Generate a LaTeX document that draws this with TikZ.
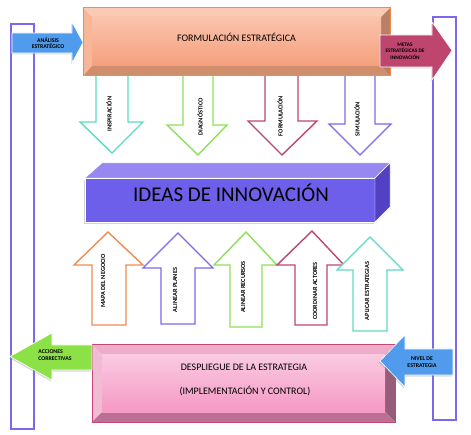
\documentclass[tikz,border=0pt]{standalone}
\usepackage{fontspec}
\setmainfont{Carlito}
\usetikzlibrary{shadows}
\definecolor{frame}{RGB}{123,104,238}
\definecolor{aqua}{RGB}{95,218,195}
\definecolor{lime}{RGB}{140,225,90}
\definecolor{wine}{RGB}{190,70,110}
\definecolor{tang}{RGB}{240,140,80}
\definecolor{sky}{RGB}{80,155,235}
\definecolor{leaf}{RGB}{140,225,70}
\tikzstyle{side} = [draw=frame, line width=1.5pt]
\tikzstyle{hollow} = [fill=white, line width=1.4pt]
\tikzstyle{block} = [draw=white, line width=0.6pt, drop shadow={shadow xshift=-1pt, shadow yshift=-1.5pt, opacity=.3}]
\tikzstyle{tag} = [font=\fontsize{5.8}{6.6}\selectfont\bfseries, align=center, inner sep=0pt]
\tikzstyle{vtag} = [tag, font=\fontsize{6.3}{7}\selectfont\bfseries, rotate=90]
\tikzstyle{title} = [font=\fontsize{10}{12}\selectfont, inner sep=0pt]

\begin{document}
\begin{tikzpicture}[x=1pt,y=-1pt]
  \useasboundingbox (0,0) rectangle (471,435);
  % side frames
  \draw [side] (11,24) rectangle (34,429);
  \draw [side] (433,17) rectangle (456,420);
  % input arrow
  \draw [block, fill=sky] (12,33) -- (72,33) -- (72,22) -- (83,42.5) -- (72,63) -- (72,53) -- (12,53) -- cycle;
  \node (analisis) at (48,43) [tag] {ANÁLISIS\\ESTRATÉGICO};
  % down arrows
  \draw [hollow, draw=aqua] (96,76) -- (96,122) -- (80,122) -- (112,153) -- (143,122) -- (128,122) -- (128,76);
  \draw [hollow, draw=lime] (183,76) -- (183,125) -- (167,125) -- (198,155) -- (227,125) -- (213,125) -- (213,76);
  \draw [hollow, draw=wine] (265,76) -- (265,121) -- (248,121) -- (282,155) -- (317,121) -- (298,121) -- (298,76);
  \draw [hollow, draw=frame] (345,76) -- (345,124) -- (329,124) -- (360,155) -- (391,124) -- (375,124) -- (375,76);
  \node (inspiracion) at (109,114) [vtag] {INSPIRACIÓN};
  \node (diagnostico) at (200,117) [vtag] {DIAGNÓSTICO};
  \node (formulacion) at (280,116) [vtag] {FORMULACIÓN};
  \node (simulacion) at (357,119) [vtag] {SIMULACIÓN};
  % top box
  \fill [fill={rgb,255:red,250;green,202;blue,180}] (83,8) -- (390,8) -- (381,17) -- (92,17) -- cycle;
  \fill [fill={rgb,255:red,247;green,182;blue,152}] (83,8) -- (92,17) -- (92,66) -- (83,76) -- cycle;
  \fill [fill={rgb,255:red,185;green,128;blue,100}] (390,8) -- (390,76) -- (381,66) -- (381,17) -- cycle;
  \fill [fill={rgb,255:red,208;green,142;blue,108}] (83,76) -- (92,66) -- (381,66) -- (390,76) -- cycle;
  \shade [top color={rgb,255:red,250;green,195;blue,172}, bottom color={rgb,255:red,245;green,160;blue,125}] (92,17) rectangle (381,66);
  \draw [draw=tang, line width=1pt] (83,8) rectangle (390,76);
  \node (formula) at (236.5,37) [title] {FORMULACIÓN ESTRATÉGICA};
  % output arrow
  \draw [block, fill=wine] (380,35) -- (432,35) -- (432,22) -- (452,50.5) -- (432,80) -- (432,67) -- (380,67) -- cycle;
  \node (metas) at (405,51) [tag, font=\fontsize{5.3}{6.3}\selectfont\bfseries] {METAS\\ESTRATÉGICAS DE\\INNOVACIÓN};
  % ideas
  \draw [draw=white, fill={rgb,255:red,110;green,95;blue,235}, drop shadow={shadow xshift=-1pt, shadow yshift=-2pt, opacity=.35}] (85,178) rectangle (375,222);
  \draw [draw=white, fill={rgb,255:red,150;green,136;blue,240}] (85,178) -- (102,163) -- (390,163) -- (375,178) -- cycle;
  \draw [draw=white, fill={rgb,255:red,82;green,66;blue,195}] (375,178) -- (390,163) -- (390,207) -- (375,222) -- cycle;
  \node (ideas) at (231,192.5) [title, font=\fontsize{21}{24}\selectfont] {IDEAS DE INNOVACIÓN};
  % up arrows
  \draw [hollow, draw=tang] (92,325) -- (92,265) -- (74,265) -- (108,232) -- (143,265) -- (126,265) -- (126,325) -- cycle;
  \draw [hollow, draw=frame] (161,324) -- (161,268) -- (143,268) -- (178,233) -- (213,268) -- (195,268) -- (195,324) -- cycle;
  \draw [hollow, draw=lime] (230,327) -- (230,265) -- (214,265) -- (246,232) -- (277,265) -- (262,265) -- (262,327) -- cycle;
  \draw [hollow, draw=wine] (295,325) -- (295,265) -- (277,265) -- (312,231) -- (344,265) -- (327,265) -- (327,325) -- cycle;
  \draw [hollow, draw=aqua] (353,331) -- (353,270) -- (337,270) -- (370,237) -- (403,270) -- (387,270) -- (387,331) -- cycle;
  \node (mapa) at (103,281) [vtag] {MAPA DEL NEGOCIO};
  \node (planes) at (175,290) [vtag] {ALINEAR PLANES};
  \node (recursos) at (243,287) [vtag] {ALINEAR RECURSOS};
  \node (actores) at (315,291) [vtag] {COORDINAR ACTORES};
  \node (aplicar) at (367,291) [vtag] {APLICAR ESTRATEGIAS};
  % bottom box
  \fill [fill={rgb,255:red,238;green,172;blue,200}] (92,345) -- (395,345) -- (385,355) -- (102,355) -- cycle;
  \fill [fill={rgb,255:red,240;green,188;blue,212}] (92,345) -- (102,355) -- (102,412) -- (92,422) -- cycle;
  \fill [fill={rgb,255:red,150;green,92;blue,122}] (395,345) -- (395,422) -- (385,412) -- (385,355) -- cycle;
  \fill [fill={rgb,255:red,185;green,112;blue,146}] (92,422) -- (102,412) -- (385,412) -- (395,422) -- cycle;
  \shade [top color={rgb,255:red,250;green,202;blue,226}, bottom color={rgb,255:red,245;green,152;blue,196}] (102,355) rectangle (385,412);
  \draw [draw={rgb,255:red,195;green,70;blue,120}, line width=1pt] (92,345) rectangle (395,422);
  \node (despliegue) at (244,367) [title] {DESPLIEGUE DE LA ESTRATEGIA};
  \node (control) at (245,391) [title] {(IMPLEMENTACIÓN Y CONTROL)};
  % feedback arrows
  \draw [block, fill=leaf] (92,345) -- (52,345) -- (52,333) -- (10,356.5) -- (52,380) -- (52,370) -- (92,370) -- cycle;
  \node (acciones) at (55,355) [tag, align=left] {ACCIONES\\CORRECTIVAS};
  \draw [block, fill=sky] (453,349) -- (405,349) -- (405,335) -- (380,361) -- (405,387) -- (405,375) -- (453,375) -- cycle;
  \node (nivel) at (422,362) [tag] {NIVEL DE\\ESTRATEGIA};
\end{tikzpicture}
\end{document}
